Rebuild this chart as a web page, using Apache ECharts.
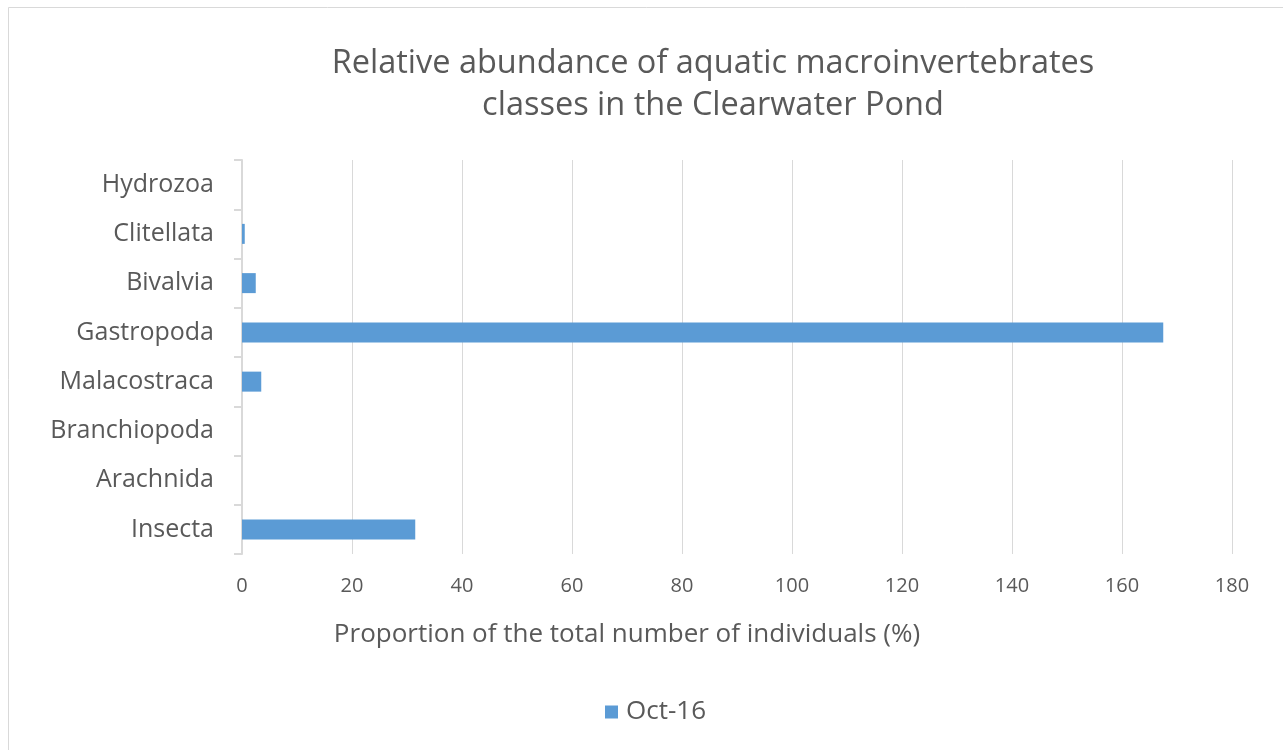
<!DOCTYPE html>
<html>
<head>
<meta charset="utf-8">
<script src="https://cdn.jsdelivr.net/npm/echarts@6/dist/echarts.min.js"></script>
<style>
html,body{margin:0;padding:0;background:#fff;}
#chart{width:1283px;height:750px;}
</style>
</head>
<body>
<div id="chart"></div>
<script>
const categories = ['Insecta', 'Arachnida', 'Branchiopoda', 'Malacostraca', 'Gastropoda', 'Bivalvia', 'Clitellata', 'Hydrozoa'];
const values = [31.5, 0, 0, 3.5, 167.5, 2.5, 0.5, 0];
const seriesName = 'Oct-16';
const titleText = 'Relative abundance of aquatic macroinvertebrates\nclasses in the Clearwater Pond';
const xAxisName = 'Proportion of the total number of individuals (%)';

const FONT = 'Open Sans';
const chart = echarts.init(document.getElementById('chart'));
chart.setOption({
  backgroundColor: '#fff',
  animation: false,
  graphic: [{
    type: 'rect',
    shape: {x: 8.5, y: 7.5, width: 1300, height: 800},
    style: {fill: 'none', stroke: '#d9d9d9', lineWidth: 1},
    silent: true
  }],
  title: {
    text: titleText,
    left: 708,
    textAlign: 'center',
    top: 38,
    textStyle: {fontFamily: FONT, fontSize: 32.5, fontWeight: 'normal', color: '#595959', lineHeight: 42}
  },
  legend: {
    data: [seriesName],
    bottom: 20,
    left: 600,
    icon: 'rect',
    itemWidth: 13,
    itemHeight: 13,
    itemGap: 8,
    textStyle: {fontFamily: FONT, fontSize: 26, color: '#595959', padding: [0, 0, 0, 3]}
  },
  grid: {left: 242, right: 51, top: 160, bottom: 196, containLabel: false},
  xAxis: {
    type: 'value',
    min: 0, max: 180, interval: 20,
    name: xAxisName,
    nameLocation: 'middle',
    nameGap: 68,
    nameTextStyle: {fontFamily: FONT, fontSize: 26, color: '#595959', padding: [0, 220, 0, 0]},
    axisLine: {show: false},
    axisTick: {show: false},
    axisLabel: {fontFamily: FONT, fontSize: 20, color: '#595959', margin: 22},
    splitLine: {show: true, lineStyle: {color: '#d9d9d9', width: 1}}
  },
  yAxis: {
    type: 'category',
    data: categories,
    axisLine: {show: true, lineStyle: {color: '#d9d9d9', width: 2}},
    axisTick: {show: true, length: 8, lineStyle: {color: '#d9d9d9', width: 2}},
    axisLabel: {fontFamily: FONT, fontSize: 25, color: '#595959', margin: 28},
    splitLine: {show: false}
  },
  series: [{
    name: seriesName,
    type: 'bar',
    data: values,
    barWidth: 20,
    itemStyle: {color: '#5b9bd5'}
  }]
});
</script>
</body>
</html>
